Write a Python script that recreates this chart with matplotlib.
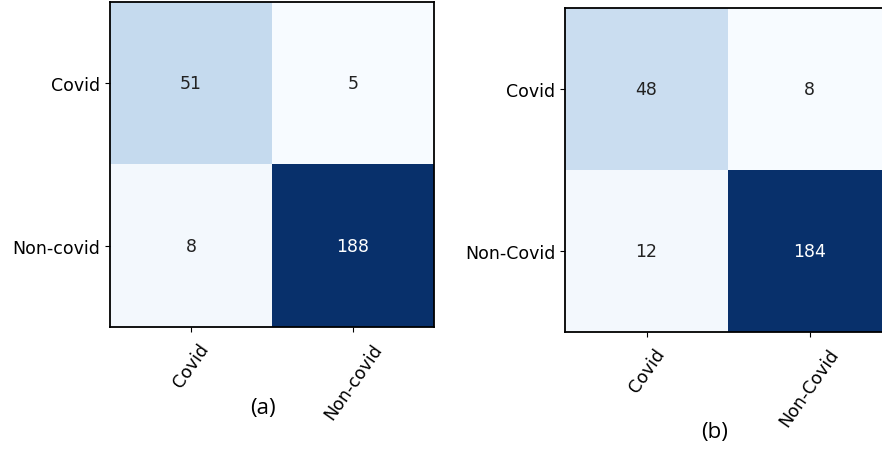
import numpy as np
import matplotlib
matplotlib.use("Agg")
import matplotlib.pyplot as plt

# Data
classes_a = ["Covid", "Non-covid"]
cm_a = [[51, 5], [8, 188]]
classes_b = ["Covid", "Non-Covid"]
cm_b = [[48, 8], [12, 184]]
panel_labels = ["(a)", "(b)"]

W, H = 882, 452
fig = plt.figure(figsize=(W / 100, H / 100), dpi=100)

def px_axes(x0, y0, w, h):
    return fig.add_axes([x0 / W, 1 - (y0 + h) / H, w / W, h / H])

def draw_cm(ax, cm, classes):
    cm = np.array(cm)
    ax.imshow(cm, interpolation="nearest", cmap=plt.cm.Blues, aspect="auto")
    ticks = np.arange(len(classes))
    ax.set_xticks(ticks)
    ax.set_yticks(ticks)
    ax.set_xticklabels(classes, rotation=55, fontsize=12.5)
    ax.set_yticklabels(classes, fontsize=12.5)
    ax.tick_params(axis="x", pad=6)
    thresh = cm.max() / 2.0
    for i in range(cm.shape[0]):
        for j in range(cm.shape[1]):
            ax.text(j, i, format(cm[i, j], "d"), ha="center", va="center",
                    fontsize=12.5,
                    color="white" if cm[i, j] > thresh else "#222222")
    for s in ax.spines.values():
        s.set_linewidth(1.3)

ax1 = px_axes(110, 3, 324, 325)
draw_cm(ax1, cm_a, classes_a)
ax2 = px_axes(565, 9, 326, 324)
draw_cm(ax2, cm_b, classes_b)
ax2.spines["right"].set_visible(False)

fig.text(263 / W, 1 - 409 / H, panel_labels[0], ha="center", va="center",
         fontsize=16, family="Open Sans")
fig.text(715 / W, 1 - 433 / H, panel_labels[1], ha="center", va="center",
         fontsize=16, family="Open Sans")

fig.savefig("out.png", dpi=100)
